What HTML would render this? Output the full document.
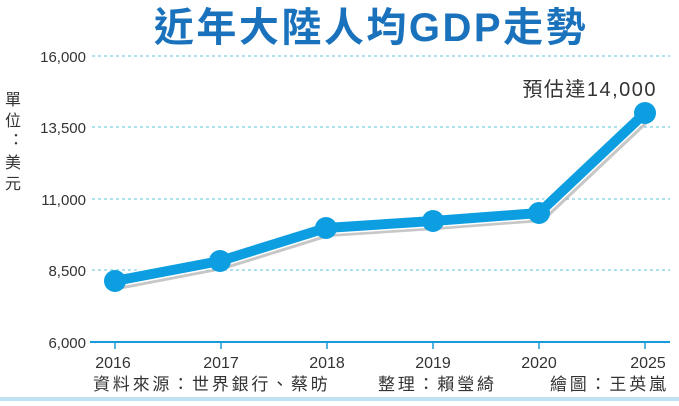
<!DOCTYPE html>
<html><head><meta charset="utf-8"><style>
body{margin:0;background:#fff;width:679px;height:401px;overflow:hidden}
svg text{font-family:"Liberation Sans","Noto Sans CJK TC",sans-serif}
</style></head><body>
<svg width="679" height="401" xmlns="http://www.w3.org/2000/svg">
<text x="371" y="41" text-anchor="middle" font-size="40" font-weight="bold" fill="#1a72bd" letter-spacing="2.5">近年大陸人均GDP走勢</text>
<g stroke="#7fcfe0" stroke-width="1.2" stroke-dasharray="3,3">
<line x1="92" y1="56" x2="670" y2="56"/><line x1="92" y1="127" x2="670" y2="127"/>
<line x1="92" y1="199" x2="670" y2="199"/><line x1="92" y1="270" x2="670" y2="270"/>
</g>
<line x1="90" y1="342" x2="670" y2="342" stroke="#1a9ad8" stroke-width="2"/>
<g stroke="#1a9ad8" stroke-width="1.5">
<line x1="115" y1="342" x2="115" y2="349"/><line x1="221" y1="342" x2="221" y2="349"/><line x1="327" y1="342" x2="327" y2="349"/><line x1="433" y1="342" x2="433" y2="349"/><line x1="539" y1="342" x2="539" y2="349"/><line x1="645" y1="342" x2="645" y2="349"/>
</g>
<g font-size="15" fill="#333" text-anchor="end">
<text x="86" y="62">16,000</text><text x="86" y="133">13,500</text><text x="86" y="205">11,000</text><text x="86" y="276">8,500</text><text x="86" y="348">6,000</text>
</g>
<g font-size="16" fill="#333" text-anchor="middle">
<text x="113" y="368">2016</text><text x="221" y="368">2017</text><text x="327" y="368">2018</text><text x="433" y="368">2019</text><text x="539" y="368">2020</text><text x="648" y="368">2025</text>
</g>
<g font-size="16" fill="#333">
<text x="5" y="105">單</text><text x="5" y="126">位</text><text x="8" y="145">：</text><text x="5" y="168">美</text><text x="5" y="189">元</text>
<text x="93" y="390" letter-spacing="2.8" font-size="17">資料來源：世界銀行、蔡昉</text>
<text x="378" y="390" letter-spacing="2.8" font-size="17">整理：賴瑩綺</text>
<text x="550" y="390" letter-spacing="2.8" font-size="17">繪圖：王英嵐</text>
<text x="657" y="96" text-anchor="end" font-size="20" letter-spacing="1.5">預估達14,000</text>
</g>
<polyline points="117,284 222,264 328,231 435,224 541,216 647,116" fill="none" stroke="#999" stroke-width="12" stroke-linejoin="round" opacity="0.55"/>
<polyline points="115,281 220,261 326,228 433,221 539,213 645,113" fill="none" stroke="#fff" stroke-width="13" stroke-linejoin="round"/>
<polyline points="115,281 220,261 326,228 433,221 539,213 645,113" fill="none" stroke="#0c9ee0" stroke-width="10" stroke-linejoin="round"/>
<g fill="#0c9ee0">
<circle cx="115" cy="281" r="11"/><circle cx="220" cy="261" r="11"/><circle cx="326" cy="228" r="11"/><circle cx="433" cy="221" r="11"/><circle cx="539" cy="213" r="11"/><circle cx="645" cy="113" r="11"/>
</g>
<rect x="0" y="397" width="679" height="4" fill="#bfe3f3"/>
</svg>
</body></html>
